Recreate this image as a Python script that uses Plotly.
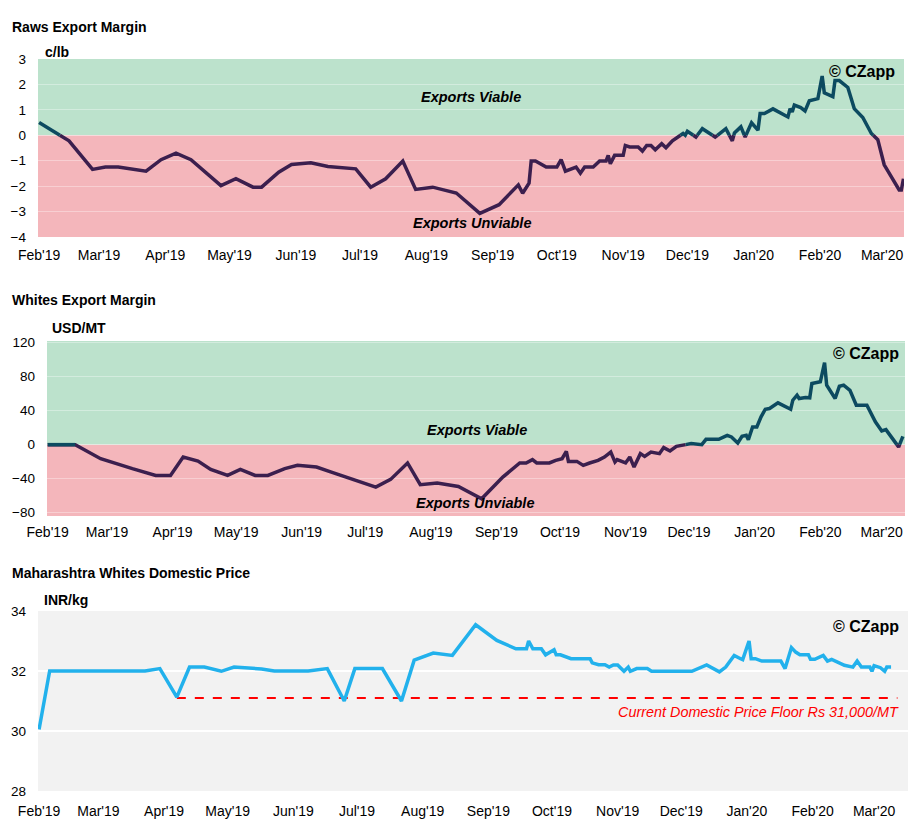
import plotly.graph_objects as go
import pandas as pd

# ---------------- DATA ----------------
raws_dates = ["2019-02-01","2019-02-15","2019-02-26","2019-03-04","2019-03-10","2019-03-23","2019-03-30",
    "2019-04-06","2019-04-13","2019-04-20","2019-04-27","2019-05-04","2019-05-12","2019-05-16","2019-05-24",
    "2019-05-30","2019-06-08","2019-06-16","2019-06-29","2019-07-06","2019-07-13","2019-07-21","2019-07-27",
    "2019-08-04","2019-08-15","2019-08-26","2019-09-04","2019-09-13","2019-09-15","2019-09-18","2019-09-19",
    "2019-09-21","2019-09-26","2019-10-01","2019-10-03","2019-10-05","2019-10-10","2019-10-12","2019-10-14",
    "2019-10-18","2019-10-21","2019-10-24","2019-10-25","2019-10-26","2019-10-28","2019-11-01","2019-11-02",
    "2019-11-04","2019-11-08","2019-11-10","2019-11-12","2019-11-14","2019-11-16","2019-11-19","2019-11-21",
    "2019-11-24","2019-11-29","2019-11-30","2019-12-01","2019-12-05","2019-12-08","2019-12-14","2019-12-19",
    "2019-12-22","2019-12-23","2019-12-26","2019-12-28","2019-12-31","2020-01-03","2020-01-04","2020-01-06",
    "2020-01-10","2020-01-17","2020-01-18","2020-01-19","2020-01-20","2020-01-23","2020-01-25","2020-01-27",
    "2020-01-31","2020-02-02","2020-02-03","2020-02-07","2020-02-08","2020-02-10","2020-02-14","2020-02-17",
    "2020-02-21","2020-02-25","2020-02-28","2020-03-02","2020-03-09","2020-03-10","2020-03-11"]
raws_margin = [0.50,-0.22,-1.34,-1.25,-1.25,-1.41,-0.96,
    -0.70,-0.96,-1.49,-1.98,-1.71,-2.04,-2.04,-1.45,
    -1.15,-1.08,-1.23,-1.32,-2.04,-1.71,-1.01,-2.13,
    -2.04,-2.27,-3.07,-2.73,-1.95,-2.28,-1.88,-1.01,
    -1.01,-1.25,-1.25,-0.96,-1.41,-1.25,-1.49,-1.25,
    -1.25,-1.01,-1.01,-0.79,-1.12,-0.79,-0.79,-0.40,
    -0.46,-0.46,-0.62,-0.40,-0.40,-0.57,-0.33,-0.49,
    -0.22,0.07,0.00,0.16,-0.07,0.26,-0.07,0.26,
    -0.22,0.09,0.33,-0.07,0.49,0.20,0.86,0.86,
    1.04,0.72,1.05,0.92,1.19,1.09,0.96,1.36,
    1.44,2.33,1.67,1.52,2.15,2.15,1.88,1.05,
    0.70,0.07,-0.17,-1.16,-2.15,-2.15,-1.71]

whites_dates = ["2019-02-01","2019-02-14","2019-02-26","2019-03-04","2019-03-13","2019-03-24","2019-03-31",
    "2019-04-06","2019-04-13","2019-04-19","2019-04-27","2019-05-03","2019-05-10","2019-05-16","2019-05-24",
    "2019-05-30","2019-06-08","2019-06-15","2019-06-29","2019-07-06","2019-07-13","2019-07-21","2019-07-27",
    "2019-08-04","2019-08-14","2019-08-25","2019-09-04","2019-09-12","2019-09-15","2019-09-18","2019-09-20",
    "2019-09-26","2019-09-29","2019-10-02","2019-10-04","2019-10-05","2019-10-09","2019-10-12","2019-10-15",
    "2019-10-19","2019-10-22","2019-10-25","2019-10-27","2019-10-28","2019-11-01","2019-11-03","2019-11-05",
    "2019-11-08","2019-11-10","2019-11-13","2019-11-17","2019-11-19","2019-11-22","2019-11-25","2019-12-02",
    "2019-12-07","2019-12-09","2019-12-15","2019-12-19","2019-12-21","2019-12-24","2019-12-26","2019-12-28",
    "2019-12-29","2019-12-31","2020-01-02","2020-01-04","2020-01-06","2020-01-08","2020-01-12","2020-01-18",
    "2020-01-19","2020-01-21","2020-01-22","2020-01-25","2020-01-27","2020-01-28","2020-02-01","2020-02-03",
    "2020-02-04","2020-02-08","2020-02-10","2020-02-12","2020-02-15","2020-02-18","2020-02-23","2020-02-27",
    "2020-03-01","2020-03-03","2020-03-09","2020-03-11"]
whites_margin = [0,0,-16.5,-21.6,-28.3,-36.2,-36.2,
    -14.6,-19.3,-29.1,-36.2,-29.1,-36.2,-36.2,-28.3,
    -24.4,-26.4,-32.3,-44.1,-50.0,-40.9,-21.6,-47.2,
    -45.2,-49.2,-63.7,-38.2,-21.6,-21.6,-17.7,-21.6,
    -21.6,-18.5,-16.5,-7.9,-19.7,-19.7,-24.4,-21.6,
    -18.5,-14.6,-8.7,-20.5,-17.7,-21.6,-14.6,-26.4,
    -10.6,-13.8,-8.7,-10.6,-3.5,-7.5,-2.0,1.2,
    0.0,6.3,6.3,11.0,9.0,2.0,9.8,11.0,
    5.9,20.8,20.8,32.7,41.7,42.5,49.2,41.7,
    52.3,58.2,54.3,55.5,55.1,72.0,74.0,96.4,
    70.0,54.3,68.8,70.0,64.0,46.4,46.4,26.8,
    16.1,17.7,-2.8,9.8]

dom_dates = ["2019-02-01","2019-02-06","2019-03-23","2019-03-30","2019-04-07","2019-04-13","2019-04-20",
    "2019-04-28","2019-05-04","2019-05-12","2019-05-17","2019-05-23","2019-06-08","2019-06-17","2019-06-25",
    "2019-06-30","2019-07-13","2019-07-22","2019-07-28","2019-08-06","2019-08-15","2019-08-26","2019-09-05",
    "2019-09-14","2019-09-19","2019-09-20","2019-09-22","2019-09-26","2019-09-28","2019-10-02","2019-10-03",
    "2019-10-05","2019-10-10","2019-10-19","2019-10-20","2019-10-23","2019-10-26","2019-10-28","2019-10-30",
    "2019-11-01","2019-11-04","2019-11-06","2019-11-07","2019-11-10","2019-11-15","2019-11-17","2019-12-06",
    "2019-12-13","2019-12-19","2019-12-22","2019-12-26","2019-12-29","2019-12-30","2020-01-02","2020-01-03",
    "2020-01-05","2020-01-08","2020-01-17","2020-01-19","2020-01-22","2020-01-24","2020-01-26","2020-01-30",
    "2020-01-31","2020-02-02","2020-02-06","2020-02-08","2020-02-10","2020-02-13","2020-02-16","2020-02-20",
    "2020-02-22","2020-02-24","2020-02-28","2020-02-29","2020-03-01","2020-03-04","2020-03-06","2020-03-07",
    "2020-03-09"]
dom_price = [30.05,32.0,32.0,32.08,31.13,32.13,32.13,
    31.99,32.13,32.08,32.07,32.0,32.0,32.08,31.0,
    32.08,32.08,31.0,32.36,32.6,32.52,33.54,33.02,
    32.74,32.74,33.0,32.74,32.74,32.54,32.71,32.54,
    32.54,32.41,32.41,32.27,32.21,32.21,32.13,32.2,
    32.2,31.99,32.13,31.99,32.08,32.08,31.99,31.99,
    32.2,31.97,32.13,32.52,32.41,32.38,33.0,32.41,
    32.41,32.33,32.33,32.08,32.78,32.63,32.54,32.54,
    32.39,32.39,32.52,32.33,32.39,32.3,32.19,32.13,
    32.33,32.13,32.13,31.99,32.18,32.11,31.99,32.13,
    32.13]

floor_dates = ["2019-04-07", "2020-03-12"]
floor_price = [31.1, 31.1]

raws_ticks = [-4, -3, -2, -1, 0, 1, 2, 3]
whites_ticks = [-80, -40, 0, 40, 80, 120]
dom_ticks = [28, 30, 32, 34]

# ---------------- HELPERS ----------------
OFF = 8                      # page body margin
W, H = 920 - OFF, 836 - OFF  # figure size
def px(x):
    return (x - OFF) / W
def py(y):
    return 1 - (y - OFF) / H

def split_sign(dates, vals):
    """Insert zero crossings; return x, positive-part y, negative-part y."""
    d = pd.to_datetime(pd.Series(dates))
    xs, ys = [d.iloc[0]], [vals[0]]
    for i in range(1, len(vals)):
        a, b = vals[i - 1], vals[i]
        if a * b < 0:
            t = a / (a - b)
            xs.append(d.iloc[i - 1] + (d.iloc[i] - d.iloc[i - 1]) * t)
            ys.append(0.0)
        xs.append(d.iloc[i]); ys.append(vals[i])
    pos = [v if v >= 0 else None for v in ys]
    neg = [v if v <= 0 else None for v in ys]
    return xs, pos, neg

POS_C = "#0c4a60"
NEG_C = "#3b1f4e"
GREEN = "#bce2cc"
PINK = "#f4b6bb"
FONT = "Liberation Sans, Arial, sans-serif"

fig = go.Figure()

xs, pos, neg = split_sign(raws_dates, raws_margin)
fig.add_trace(go.Scatter(x=xs, y=neg, mode="lines", line=dict(color=NEG_C, width=3.5),
                         xaxis="x", yaxis="y", showlegend=False))
fig.add_trace(go.Scatter(x=xs, y=pos, mode="lines", line=dict(color=POS_C, width=3.5),
                         xaxis="x", yaxis="y", showlegend=False))
xs, pos, neg = split_sign(whites_dates, whites_margin)
fig.add_trace(go.Scatter(x=xs, y=neg, mode="lines", line=dict(color=NEG_C, width=3.5),
                         xaxis="x2", yaxis="y2", showlegend=False))
fig.add_trace(go.Scatter(x=xs, y=pos, mode="lines", line=dict(color=POS_C, width=3.5),
                         xaxis="x2", yaxis="y2", showlegend=False))
fig.add_trace(go.Scatter(x=floor_dates, y=floor_price, mode="lines",
                         line=dict(color="#ff0000", width=2, dash="dash"),
                         xaxis="x3", yaxis="y3", showlegend=False))
fig.add_trace(go.Scatter(x=dom_dates, y=dom_price, mode="lines",
                         line=dict(color="#22b1ec", width=3.5),
                         xaxis="x3", yaxis="y3", showlegend=False))

xcommon = dict(type="date", dtick="M1", tick0="2019-02-01", tickformat="%b'%y",
               showgrid=False, zeroline=False, showline=False, ticks="", automargin=False,
               tickfont=dict(family=FONT, size=14, color="#000"))
ycommon = dict(showline=False, zeroline=False, ticks="", automargin=False,
               ticklabelstandoff=11,
               tickfont=dict(family=FONT, size=13.5, color="#000"))

fig.update_layout(
    width=W, height=H, margin=dict(l=0, r=0, t=0, b=0, autoexpand=False),
    paper_bgcolor="white", plot_bgcolor="rgba(0,0,0,0)",
    font=dict(family=FONT, color="#000"),
    xaxis=dict(xcommon, domain=[px(38), px(904)], anchor="y", ticklabelstandoff=8,
               range=["2019-01-31 12:00", "2020-03-11 06:00"]),
    yaxis=dict(ycommon, domain=[py(237), py(59)], anchor="x", range=[-4, 3],
               tickvals=raws_ticks, gridcolor="rgba(255,255,255,0.35)", gridwidth=1),
    xaxis2=dict(xcommon, domain=[px(47), px(905)], anchor="y2", ticklabelstandoff=6,
                range=["2019-01-31 16:00", "2020-03-12"]),
    yaxis2=dict(ycommon, domain=[py(516), py(341)], anchor="x2", range=[-84, 122],
                tickvals=whites_ticks, gridcolor="rgba(255,255,255,0.35)", gridwidth=1),
    xaxis3=dict(xcommon, domain=[px(38), px(908)], anchor="y3", ticklabelstandoff=10,
                range=["2019-01-31 12:00", "2020-03-17"]),
    yaxis3=dict(ycommon, domain=[py(791), py(611)], anchor="x3", range=[28, 34],
                tickvals=dom_ticks, gridcolor="#ffffff", gridwidth=2),
)

shapes = [
    dict(type="rect", xref="x domain", yref="y", x0=0, x1=1, y0=0, y1=3,
         fillcolor=GREEN, line=dict(width=0), layer="below"),
    dict(type="rect", xref="x domain", yref="y", x0=0, x1=1, y0=-4, y1=0,
         fillcolor=PINK, line=dict(width=0), layer="below"),
    dict(type="rect", xref="x2 domain", yref="y2", x0=0, x1=1, y0=0, y1=122,
         fillcolor=GREEN, line=dict(width=0), layer="below"),
    dict(type="rect", xref="x2 domain", yref="y2", x0=0, x1=1, y0=-84, y1=0,
         fillcolor=PINK, line=dict(width=0), layer="below"),
    dict(type="rect", xref="x3 domain", yref="y3 domain", x0=0, x1=1, y0=0, y1=1,
         fillcolor="#f2f2f2", line=dict(width=0), layer="below"),
]
fig.update_layout(shapes=shapes)

def ann(text, x, y, size=14, bold=True, italic=False, color="#000", xanchor="left"):
    t = text
    if bold:
        t = "<b>" + t + "</b>"
    if italic:
        t = "<i>" + t + "</i>"
    fig.add_annotation(text=t, x=px(x), y=py(y), xref="paper", yref="paper",
                       xanchor=xanchor, yanchor="middle", showarrow=False,
                       font=dict(family=FONT, size=size, color=color))

ann("Raws Export Margin", 10, 27)
ann("c/lb", 43, 52)
ann("Whites Export Margin", 10, 300)
ann("USD/MT", 50, 328)
ann("Maharashtra Whites Domestic Price", 10, 573)
ann("INR/kg", 42, 600)

ann("© CZapp", 897, 71, size=16, xanchor="right")
ann("© CZapp", 901, 353, size=16, xanchor="right")
ann("© CZapp", 901, 626, size=16, xanchor="right")

ann("Exports Viable", 471, 97, size=14.5, italic=True, xanchor="center")
ann("Exports Unviable", 472, 223, size=14.5, italic=True, xanchor="center")
ann("Exports Viable", 477, 430, size=14.5, italic=True, xanchor="center")
ann("Exports Unviable", 475, 503, size=14.5, italic=True, xanchor="center")

ann("Current Domestic Price Floor Rs 31,000/MT", 901, 712, size=14.4, bold=False,
    italic=True, color="#ff0000", xanchor="right")

fig.write_html("out.html")
